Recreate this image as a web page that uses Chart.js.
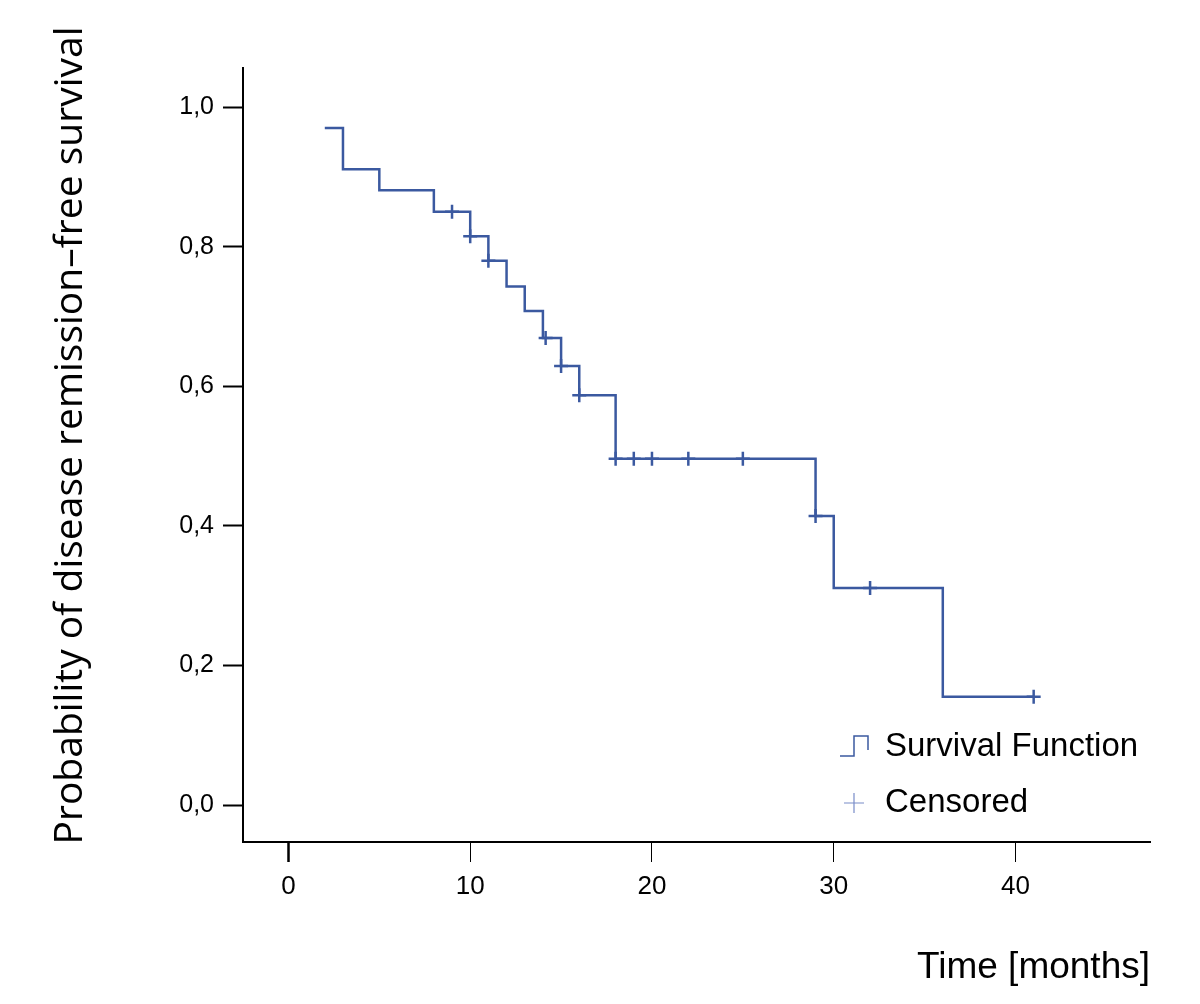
<!DOCTYPE html>
<html>
<head>
<meta charset="utf-8">
<title>Remission-free survival</title>
<script src="https://cdn.jsdelivr.net/npm/chart.js@4.4.1/dist/chart.umd.min.js"></script>
<style>
  html, body { margin: 0; padding: 0; background: #fff; }
  #km-chart { display: block; }
</style>
</head>
<body>
<canvas id="km-chart" width="1200" height="1004"></canvas>
<script>
// Kaplan-Meier steps: level that starts at each month
const stepMonths = [2, 3, 5, 8, 10, 11, 12, 13, 14, 15, 16, 18, 29, 30, 36, 41];
const stepSurvival = [0.970, 0.911, 0.881, 0.850, 0.815, 0.780, 0.743, 0.708, 0.669, 0.629, 0.587, 0.496, 0.414, 0.311, 0.155, 0.155];

// censored observations
const censoredMonths = [9, 10, 11, 14.15, 15, 16, 18, 19, 20, 22, 25, 29, 32, 41];
const censoredSurvival = [0.850, 0.815, 0.780, 0.669, 0.629, 0.587, 0.496, 0.496, 0.496, 0.496, 0.496, 0.414, 0.311, 0.155];

const xTicks = [0, 10, 20, 30, 40];
const yTicks = [0, 0.2, 0.4, 0.6, 0.8, 1.0];
const yTickLabels = ['0,0', '0,2', '0,4', '0,6', '0,8', '1,0'];
const legendLabels = ['Survival Function', 'Censored'];

const LINE = 'rgb(59,89,160)';
const LIGHT = 'rgb(120,140,200)';

// legend sits inside the plot, bottom right
const kmLegend = {
  id: 'kmLegend',
  afterDraw(chart) {
    const { ctx, chartArea } = chart;
    const ix = chartArea.right - 310; // icon left
    const tx = chartArea.right - 265; // text left
    const y1 = chartArea.bottom - 95;
    const y2 = chartArea.bottom - 39;
    ctx.save();

    // step icon
    ctx.strokeStyle = LINE;
    ctx.lineWidth = 1.5;
    ctx.beginPath();
    ctx.moveTo(ix, y1 + 9);
    ctx.lineTo(ix + 14, y1 + 9);
    ctx.lineTo(ix + 14, y1 - 11);
    ctx.lineTo(ix + 28, y1 - 11);
    ctx.lineTo(ix + 28, y1 + 3);
    ctx.stroke();

    // cross icon
    ctx.strokeStyle = LIGHT;
    ctx.lineWidth = 1.2;
    ctx.beginPath();
    ctx.moveTo(ix + 4, y2);
    ctx.lineTo(ix + 24, y2);
    ctx.moveTo(ix + 14, y2 - 10);
    ctx.lineTo(ix + 14, y2 + 10);
    ctx.stroke();

    ctx.fillStyle = '#000';
    ctx.font = '33px "Liberation Sans", Arial, sans-serif';
    ctx.textBaseline = 'middle';
    ctx.textAlign = 'left';
    ctx.fillText(legendLabels[0], tx, y1);
    ctx.fillText(legendLabels[1], tx, y2);
    ctx.restore();
  }
};

const ctx = document.getElementById('km-chart').getContext('2d');
new Chart(ctx, {
  type: 'scatter',
  data: {
    datasets: [
      {
        label: legendLabels[0],
        data: stepMonths.map((m, i) => ({ x: m, y: stepSurvival[i] })),
        showLine: true,
        stepped: true,
        borderColor: LINE,
        borderWidth: 2.5,
        pointRadius: 0,
        fill: false
      },
      {
        label: legendLabels[1],
        data: censoredMonths.map((m, i) => ({ x: m, y: censoredSurvival[i] })),
        showLine: false,
        pointStyle: 'cross',
        pointRadius: 7,
        pointBorderWidth: 2.5,
        borderColor: LINE,
        backgroundColor: LINE
      }
    ]
  },
  options: {
    responsive: false,
    animation: false,
    devicePixelRatio: 1,
    layout: { padding: { top: 68, right: 50, bottom: 0, left: 0 } },
    plugins: {
      legend: { display: false },
      tooltip: { enabled: false }
    },
    scales: {
      x: {
        type: 'linear',
        position: 'bottom',
        min: -2.5,
        max: 47.4,
        afterBuildTicks: s => { s.ticks = xTicks.map(v => ({ value: v })); },
        afterFit: s => { s.height = 162; },
        border: { color: '#000', width: 2 },
        grid: {
          drawOnChartArea: false,
          tickLength: 20,
          tickColor: '#000',
          tickWidth: c => (c.tick && c.tick.value === 0 ? 2.5 : 1)
        },
        ticks: {
          color: '#000',
          padding: 9,
          font: { family: 'Liberation Sans', size: 26 },
          callback: v => String(v)
        },
        title: {
          display: true,
          text: 'Time [months]',
          align: 'end',
          color: '#000',
          font: { family: 'Liberation Sans', size: 37 },
          padding: { top: 0, bottom: 14 }
        }
      },
      y: {
        type: 'linear',
        min: -0.053,
        max: 1.056,
        afterBuildTicks: s => { s.ticks = yTicks.map(v => ({ value: v })); },
        afterFit: s => { s.width = 243; },
        border: { color: '#000', width: 2 },
        grid: {
          drawOnChartArea: false,
          tickLength: 20,
          tickColor: '#000',
          tickWidth: 2
        },
        ticks: {
          color: '#000',
          padding: 9,
          font: { family: 'Liberation Sans', size: 25 },
          callback: (v, i) => yTickLabels[yTicks.indexOf(v)] ?? ''
        },
        title: {
          display: true,
          // leading em space nudges the centred title up, as in the source
          text: '\u2003Probability of disease remission\u2013free survival',
          color: '#000',
          font: { family: 'Open Sans', size: 39 },
          padding: { top: 47, bottom: 0 }
        }
      }
    }
  },
  plugins: [kmLegend]
});
</script>
</body>
</html>
